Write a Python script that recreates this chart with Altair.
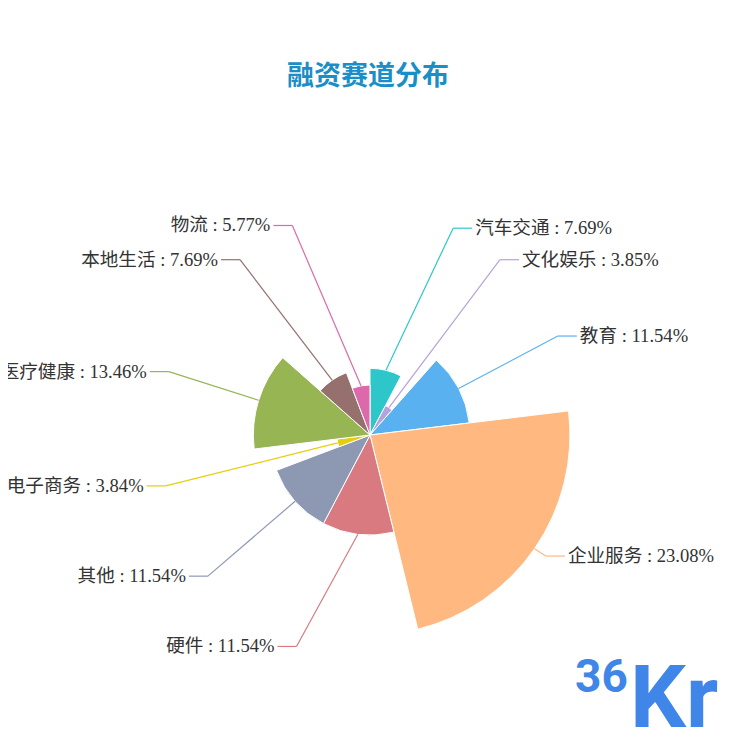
import altair as alt
import pandas as pd

title_text = "融资赛道分布"
names = ["汽车交通", "文化娱乐", "教育", "企业服务", "硬件", "其他", "电子商务", "医疗健康", "本地生活", "物流"]
values = [7.69, 3.85, 11.54, 23.08, 11.54, 11.54, 3.84, 13.46, 7.69, 5.77]
colors = ["#2ec7c9", "#b6a2de", "#5ab1ef", "#ffb980", "#d87a80", "#8d98b3", "#e5cf0d", "#97b552", "#95706d", "#dc69aa"]

df = pd.DataFrame({"name": names, "value": values, "idx": list(range(len(names)))})

W, H = 719, 737
CX, CY = 362, 427
RMAX = 200
LEN1 = 13
LEN2 = 19
FONT = "Liberation Serif, Noto Sans CJK SC"
LOGO_FONT = "Roboto"

xs = alt.Scale(domain=[-CX, W - CX], range=[0, W], nice=False, zero=False)
ys = alt.Scale(domain=[-(H - CY), CY], range=[H, 0], nice=False, zero=False)
cs = alt.Scale(domain=names, range=colors)

R1 = RMAX + LEN1
R2 = RMAX + LEN1 + LEN2

base = alt.Chart(df).transform_window(
    cum="sum(value)", sort=[alt.SortField("idx")], frame=[None, 0]
).transform_joinaggregate(
    total="sum(value)", vmax="max(value)"
).transform_calculate(
    mid="2*PI*(datum.cum - datum.value/2)/datum.total",
    r0=f"{RMAX}*datum.value/datum.vmax",
).transform_calculate(
    sx="datum.r0*sin(datum.mid)",
    sy="datum.r0*cos(datum.mid)",
    ly=f"{R1}*cos(datum.mid)",
    side="sin(datum.mid) >= 0 ? 1 : -1",
    label="datum.name + ' : ' + format(datum.value, '.2f') + '%'",
).transform_calculate(
    lx=f"datum.side*sqrt({R2}*{R2} - datum.ly*datum.ly)",
).transform_calculate(
    endx="datum.lx - datum.side*3",
    ex=f"datum.lx - datum.side*(3+{LEN2})",
)

arcs = alt.Chart(df).mark_arc(stroke="white", strokeWidth=1).encode(
    theta=alt.Theta("value:Q", stack=True),
    radius=alt.Radius("value:Q", scale=alt.Scale(type="linear", domain=[0, max(values)], range=[0, RMAX], zero=True)),
    order=alt.Order("idx:Q"),
    color=alt.Color("name:N", scale=cs, legend=None),
    x=alt.X(datum=0, scale=xs, axis=None),
    y=alt.Y(datum=0, scale=ys, axis=None),
)

seg1 = base.mark_rule(strokeWidth=1.2).encode(
    x=alt.X("sx:Q", scale=xs, axis=None),
    y=alt.Y("sy:Q", scale=ys, axis=None),
    x2="ex:Q", y2="ly:Q",
    color=alt.Color("name:N", scale=cs, legend=None),
)
seg2 = base.mark_rule(strokeWidth=1.2).encode(
    x=alt.X("ex:Q", scale=xs, axis=None),
    y=alt.Y("ly:Q", scale=ys, axis=None),
    x2="endx:Q", y2="ly:Q",
    color=alt.Color("name:N", scale=cs, legend=None),
)

txt_r = base.transform_filter("datum.side > 0").mark_text(
    align="left", baseline="middle", fontSize=18.6, font=FONT, color="#333333"
).encode(
    x=alt.X("lx:Q", scale=xs, axis=None),
    y=alt.Y("ly:Q", scale=ys, axis=None),
    text="label:N",
)
txt_l = base.transform_filter("datum.side < 0").mark_text(
    align="right", baseline="middle", fontSize=18.6, font=FONT, color="#333333"
).encode(
    x=alt.X("lx:Q", scale=xs, axis=None),
    y=alt.Y("ly:Q", scale=ys, axis=None),
    text="label:N",
)

title = alt.Chart(pd.DataFrame({"t": [title_text]})).mark_text(
    align="center", baseline="middle", fontSize=27, font=FONT, color="#1a8ec6", fontWeight="bold"
).encode(x=alt.value(360), y=alt.value(69), text="t:N")

logo36 = alt.Chart(pd.DataFrame({"t": ["36"]})).mark_text(
    align="left", baseline="alphabetic", fontSize=46, font=LOGO_FONT, color="#3f86e8", fontWeight="bold"
).encode(x=alt.value(567), y=alt.value(684), text="t:N")
logokr = alt.Chart(pd.DataFrame({"t": ["Kr"]})).mark_text(
    align="left", baseline="alphabetic", fontSize=88, font=LOGO_FONT, color="#3f86e8", fontWeight="bold"
).encode(x=alt.value(622), y=alt.value(719), text="t:N")

chart = alt.layer(arcs, seg1, seg2, txt_r, txt_l, title, logo36, logokr).properties(
    width=W, height=H, padding=0, autosize=alt.AutoSizeParams(type="none"), background="white"
).configure_view(stroke=None)

chart.save("out.html", embed_options={"renderer": "svg", "actions": False})
